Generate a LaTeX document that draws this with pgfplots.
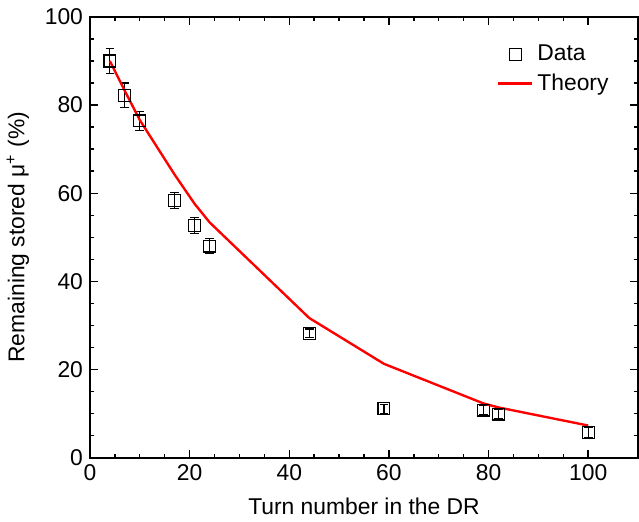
\documentclass[border=0pt]{standalone}
\usepackage{fontspec}
\setmainfont{Liberation Sans}
\usepackage{pgfplots}
\pgfplotsset{compat=1.18}
\definecolor{theory}{HTML}{FF0000}

\begin{document}
\begin{tikzpicture}[font=\fontsize{11.5}{13}\selectfont]
\path (-42.5pt,-32pt) rectangle (276pt,230.5pt);
\begin{axis}[
  at={(0,0)}, anchor=south west,
  scale only axis,
  width=276pt, height=222pt,
  xmin=0, xmax=110, ymin=0, ymax=100,
  xtick={0,20,...,100}, ytick={0,20,...,100},
  minor x tick num=3, minor y tick num=3,
  tick align=inside, tick pos=both,
  major tick length=4pt, minor tick length=2pt,
  axis line style={line width=1pt},
  every tick/.style={black, line width=0.7pt},
  /pgf/number format/assume math mode=true,
  xlabel={Turn number in the DR},
  ylabel={Remaining stored μ\textsuperscript{+} (\%)},
  xlabel style={yshift=-1.5pt},
  ylabel style={yshift=1pt},
  legend style={draw=none, fill=none, at={(0.965,0.955)}, anchor=north east,
                row sep=1pt, font=\fontsize{11.5}{13}\selectfont},
  legend cell align=left,
  clip=false,
]
\addplot+[only marks, black, mark=square, mark size=3pt,
  mark options={line width=0.6pt},
  error bars/.cd, y dir=both, y explicit,
  error mark options={rotate=90, mark size=2.2pt, line width=0.6pt},
  error bar style={line width=0.6pt}]
  table[x=x, y=y, y error=e] {
x   y     e
4   90.0  2.8
7   82.2  2.8
10  76.4  2.1
17  58.4  1.8
21  52.7  1.8
24  48.0  1.7
44  28.2  1.0
59  11.1  1.0
79  10.8  1.0
82  9.9   1.0
100 5.7   1.2
};
\addlegendentry{Data}
\addplot[theory, line width=1.2pt, no marks] coordinates {
(4,90.0) (7,83.2) (10,76.6) (17,64.2) (21,57.6) (24,53.4) (44,31.7)
(59,21.3) (79,12.3) (82,11.4) (100,7.3)
};
\addlegendentry{Theory}
\end{axis}
\end{tikzpicture}
\end{document}
